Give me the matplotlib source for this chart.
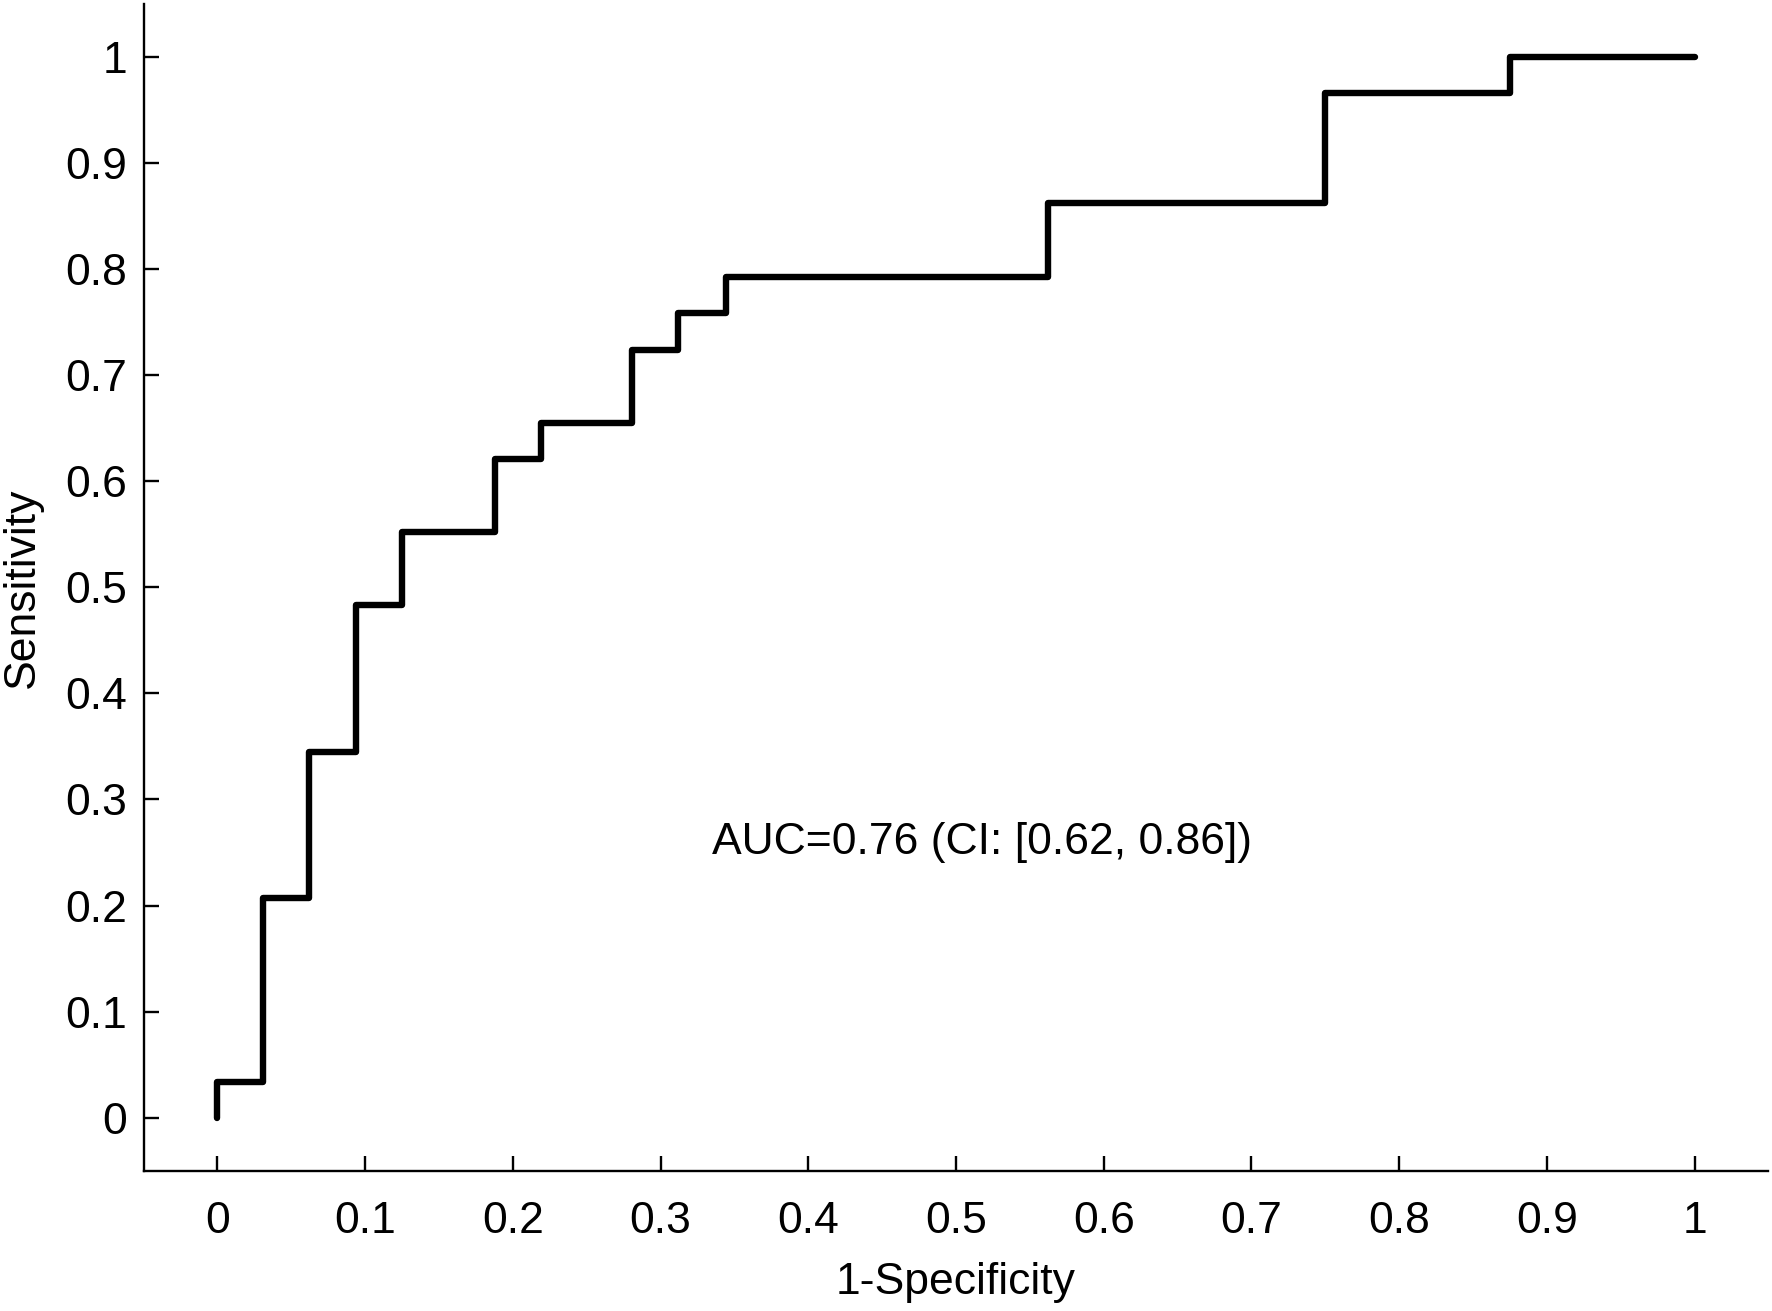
import matplotlib
matplotlib.use("Agg")
import matplotlib.pyplot as plt

plt.rcParams['font.family'] = ['Liberation Sans', 'DejaVu Sans']

# ROC curve corners (1 - specificity, sensitivity)
fpr = [0.0, 0.0, 0.031, 0.031, 0.062, 0.062, 0.094, 0.094, 0.125, 0.125,
       0.188, 0.188, 0.219, 0.219, 0.281, 0.281, 0.312, 0.312, 0.344, 0.344,
       0.562, 0.562, 0.75, 0.75, 0.875, 0.875, 1.0]
tpr = [0.0, 0.034, 0.034, 0.207, 0.207, 0.345, 0.345, 0.483, 0.483, 0.552,
       0.552, 0.621, 0.621, 0.655, 0.655, 0.724, 0.724, 0.759, 0.759, 0.793,
       0.793, 0.862, 0.862, 0.966, 0.966, 1.0, 1.0]

ticks = [0, 0.1, 0.2, 0.3, 0.4, 0.5, 0.6, 0.7, 0.8, 0.9, 1]
tick_labels = ['0', '0.1', '0.2', '0.3', '0.4', '0.5', '0.6', '0.7', '0.8', '0.9', '1']
auc_text = 'AUC=0.76 (CI: [0.62, 0.86])'

fig = plt.figure(figsize=(17.72, 13.11), dpi=100)
ax = fig.add_axes([0.081, 0.107, 0.917, 0.89])

ax.plot(fpr, tpr, color='black', linewidth=4.6, solid_joinstyle='round',
        solid_capstyle='round')

ax.set_xlim(-0.05, 1.05)
ax.set_ylim(-0.05, 1.05)
ax.set_xticks(ticks)
ax.set_xticklabels(tick_labels)
ax.set_yticks(ticks)
ax.set_yticklabels(tick_labels)

for s in ['top', 'right']:
    ax.spines[s].set_visible(False)
for s in ['left', 'bottom']:
    ax.spines[s].set_linewidth(1.7)

ax.tick_params(axis='both', direction='in', length=11, width=1.7, labelsize=32)
ax.tick_params(axis='x', pad=22)
ax.tick_params(axis='y', pad=12)

ax.set_xlabel('1-Specificity', fontsize=32, labelpad=14)
ax.set_ylabel('Sensitivity', fontsize=32, labelpad=16)

ax.text(0.335, 0.259, auc_text, fontsize=32, ha='left', va='center')

fig.savefig('out.png', dpi=100, facecolor='white')
